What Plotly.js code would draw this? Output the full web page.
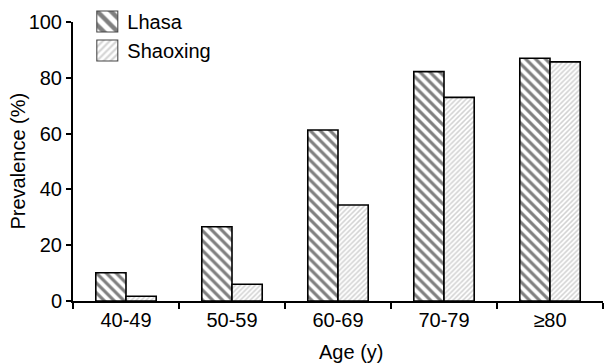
<!DOCTYPE html>
<html>
<head>
<meta charset="utf-8">
<script src="https://cdn.plot.ly/plotly-3.0.1.min.js"></script>
<style>html,body{margin:0;padding:0;background:#fff;}#chart{width:605px;height:363px;}</style>
</head>
<body>
<div id="chart"></div>
<script>
const categories = ["40-49", "50-59", "60-69", "70-79", "≥80"];
const lhasa = [10.1, 26.6, 61.3, 82.2, 87.0];
const shaoxing = [1.7, 6.0, 34.4, 73.0, 85.7];
const seriesNames = ["Lhasa", "Shaoxing"];
const yTicks = [0, 20, 40, 60, 80, 100];

const font = "Liberation Sans, Arial, sans-serif";

const traces = [
  {
    type: "bar", name: seriesNames[0], x: categories, y: lhasa,
    marker: {
      color: "#ffffff",
      line: {color: "#000", width: 1.6},
      pattern: {shape: "\\", fgcolor: "#000000", bgcolor: "#ffffff", size: 7, solidity: 0.45, fillmode: "overlay"}
    }
  },
  {
    type: "bar", name: seriesNames[1], x: categories, y: shaoxing,
    marker: {
      color: "#ffffff",
      line: {color: "#000", width: 1.6},
      pattern: {shape: "/", fgcolor: "#a8a8a8", bgcolor: "#ffffff", size: 3.5, solidity: 0.45, fillmode: "overlay"}
    }
  }
];

const layout = {
  width: 605, height: 363,
  margin: {l: 73, r: 2, t: 22, b: 62},
  paper_bgcolor: "#fff", plot_bgcolor: "#fff",
  font: {family: font, size: 20, color: "#000"},
  barmode: "group", bargap: 0.43, bargroupgap: 0,
  showlegend: true,
  legend: {x: 0.027, y: 1.072, xanchor: "left", yanchor: "top", bgcolor: "rgba(0,0,0,0)",
           font: {family: font, size: 20, color: "#000"}, tracegroupgap: 0},
  xaxis: {
    type: "category", range: [-0.5, 4.5], tickson: "boundaries",
    showline: true, linecolor: "#000", linewidth: 2,
    ticks: "outside", ticklen: 6, tickwidth: 2, tickcolor: "#000",
    showgrid: false, zeroline: false, fixedrange: true,
    tickfont: {family: font, size: 20, color: "#000"}
  },
  yaxis: {
    range: [0, 100], tickvals: yTicks, ticktext: yTicks.map(String),
    showline: true, linecolor: "#000", linewidth: 2,
    ticks: "outside", ticklen: 5, tickwidth: 2, tickcolor: "#000",
    showgrid: false, zeroline: false, fixedrange: true,
    tickfont: {family: font, size: 20, color: "#000"}
  },
  annotations: [
    {text: "Age (y)", xref: "paper", yref: "paper", x: 0.525, y: 0, yshift: -38,
     xanchor: "center", yanchor: "top", showarrow: false,
     font: {family: font, size: 20, color: "#000"}},
    {text: "Prevalence (%)", xref: "paper", yref: "paper", x: 0, xshift: -56, y: 0.5,
     xanchor: "center", yanchor: "middle", textangle: -90, showarrow: false,
     font: {family: font, size: 20, color: "#000"}}
  ]
};

Plotly.newPlot("chart", traces, layout, {displayModeBar: false, staticPlot: true}).then(function () {
  document.querySelectorAll("#chart .legendpoints path").forEach(function (p) {
    p.setAttribute("transform", "translate(20,0) scale(1.75)");
    p.style.setProperty("stroke-width", "0.6px", "important");
    p.style.setProperty("stroke", "#444", "important");
  });
});
</script>
</body>
</html>
